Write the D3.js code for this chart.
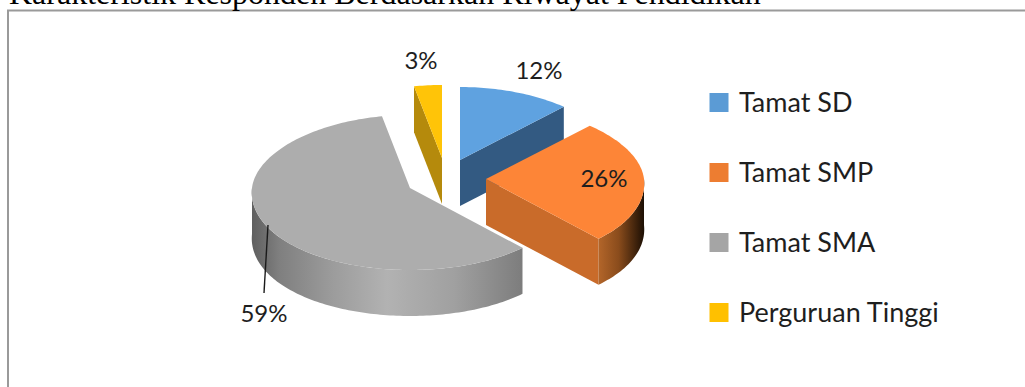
<!DOCTYPE html>
<html>
<head>
<meta charset="utf-8">
<script src="https://cdn.jsdelivr.net/npm/d3@7"></script>
<style>
  html, body { margin: 0; padding: 0; background: #fff; overflow: hidden; }
  svg { display: block; }
</style>
</head>
<body>
<svg id="chart" width="1025" height="387"></svg>
<script>
// Respondent education levels, in percent
const categories = ["Tamat SD", "Tamat SMP", "Tamat SMA", "Perguruan Tinggi"];
const values = [12, 26, 59, 3];
const topColors = ["#5fa2e0", "#fd8537", "#adadad", "#ffc408"];
const legendColors = ["#5b9bd5", "#ed7d31", "#a5a5a5", "#ffc000"];
const cutColors = ["#335a82", "#c96b2a", "#a5a5a5", "#b58a0c"];
const chartTitle = "Karakteristik Responden Berdasarkan Riwayat Pendidikan";

const svg = d3.select("#chart");
const defs = svg.append("defs");

const W = { rx: 158, ryBack: 73, ryFront: 82, depth: 46, perspective: 0.055 };
const apexes = [[460, 160], [486, 179], [410, 188], [442, 158]];

// Elliptical projection of the tilted pie: the near half looks slightly larger
const xUnit = d3.scaleLinear().domain([-1, 1]).range([-W.rx, W.rx]);
const yBack = d3.scaleLinear().domain([-1, 0]).range([-W.ryBack, 0]);
const yFront = d3.scaleLinear().domain([0, 1]).range([0, W.ryFront]);
function project(apex, angle, drop = 0) {
  const ux = Math.sin(angle), uy = -Math.cos(angle);
  return [apex[0] + xUnit(ux) * (1 + W.perspective * uy),
          apex[1] + (uy < 0 ? yBack(uy) : yFront(uy)) + drop];
}
function rimPoints(apex, a0, a1, drop = 0) {
  const n = Math.max(2, Math.ceil((a1 - a0) / 0.02));
  return d3.range(n + 1).map(i => project(apex, a0 + (a1 - a0) * i / n, drop));
}
const line = d3.line();
const closed = pts => line(pts) + "Z";

const slices = d3.pie().sort(null).value(d => d)(values);

// Page frame and the caption line above it
svg.append("rect").attr("x", 8).attr("y", 10.5).attr("width", 1030).attr("height", 390)
  .attr("fill", "#fff").attr("stroke", "#9a9a9a").attr("stroke-width", 2);
svg.append("text").attr("x", 9).attr("y", 3.5).text(chartTitle)
  .attr("font-family", "'Liberation Serif', serif").attr("font-size", 32).attr("fill", "#000");

// Shading across the curved outer walls
function wallGradient(id, x1, x2, stops) {
  const g = defs.append("linearGradient").attr("id", id).attr("gradientUnits", "userSpaceOnUse")
    .attr("x1", x1).attr("x2", x2).attr("y1", 0).attr("y2", 0);
  stops.forEach(([o, c]) => g.append("stop").attr("offset", o).attr("stop-color", c));
}
wallGradient("wallOrange", 598, 644, [[0, "#b4662a"], [0.45, "#8a4c1c"], [1, "#1c0f04"]]);
wallGradient("wallGray", 252, 522, [[0, "#5f5f5f"], [0.1, "#7f7f7f"], [0.3, "#9c9c9c"],
  [0.5, "#b2b2b2"], [0.75, "#a0a0a0"], [1, "#7d7d7d"]]);

const pieG = svg.append("g");
const halfTurn = Math.PI;

function drawCut(i, angle) {
  const a = apexes[i], rim = project(a, angle), rimLow = project(a, angle, W.depth), low = [a[0], a[1] + W.depth];
  pieG.append("path").attr("d", closed([a, rim, rimLow, low])).attr("fill", cutColors[i]);
}
function drawWall(i, a0, a1, fill) {
  const a = apexes[i];
  const pts = rimPoints(a, a0, a1).concat(rimPoints(a, a0, a1, W.depth).reverse());
  pieG.append("path").attr("d", closed(pts)).attr("fill", fill);
}
function drawTop(i) {
  const a = apexes[i], s = slices[i];
  pieG.append("path").attr("d", closed([a].concat(rimPoints(a, s.startAngle, s.endAngle))))
    .attr("fill", topColors[i]);
}

// Painted back to front: gold wedge, blue wedge, gray wedge, orange wedge
drawCut(3, slices[3].startAngle);
drawTop(3);
drawCut(0, slices[0].endAngle);
drawTop(0);
drawWall(2, slices[2].startAngle, 1.5 * halfTurn, "url(#wallGray)");
drawTop(2);
drawCut(1, slices[1].endAngle);
drawWall(1, halfTurn / 2, slices[1].endAngle, "url(#wallOrange)");
drawTop(1);

// Value labels and the leader line of the largest slice
const labelFont = "Lato, 'Open Sans', sans-serif";
const labelPos = [[539, 73], [604, 181], [264, 316], [421, 63]];
svg.append("g").selectAll("text").data(values).join("text")
  .attr("x", (d, i) => labelPos[i][0]).attr("y", (d, i) => labelPos[i][1])
  .attr("text-anchor", "middle").attr("dominant-baseline", "middle")
  .attr("font-family", labelFont).attr("font-size", 24).attr("fill", "#1e1e1e")
  .text(d => d + "%");
svg.append("line").attr("x1", 268).attr("y1", 225).attr("x2", 264).attr("y2", 293)
  .attr("stroke", "#1a1a1a").attr("stroke-width", 1.4);

// Legend
const legendY = d3.scalePoint().domain(categories).range([102.5, 312.5]);
const legend = svg.append("g").selectAll("g").data(categories).join("g")
  .attr("transform", d => `translate(0,${legendY(d)})`);
legend.append("rect").attr("x", 709.5).attr("y", -9.5).attr("width", 19).attr("height", 19)
  .attr("fill", (d, i) => legendColors[i]);
legend.append("text").attr("x", 739).attr("y", 3).attr("dominant-baseline", "middle")
  .attr("font-family", labelFont).attr("font-size", 27).attr("fill", "#1e1e1e").text(d => d);
</script>
</body>
</html>
